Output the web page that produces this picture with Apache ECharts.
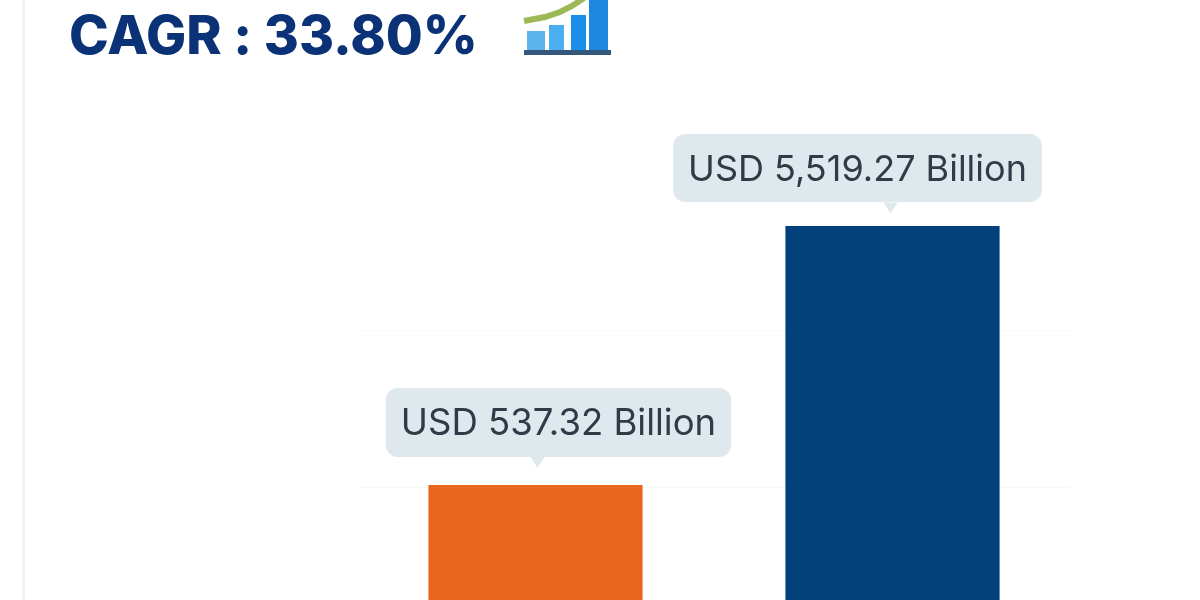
<!DOCTYPE html>
<html>
<head>
<meta charset="utf-8">
<style>html,body{margin:0;padding:0;background:#fff}#c{width:1200px;height:600px}</style>
<script src="https://cdn.jsdelivr.net/npm/echarts@6/dist/echarts.min.js"></script>
</head>
<body>
<div id="c"></div>
<script>
var categories = ['Base year', 'Forecast year'];
var values = [537.32, 5519.27];
var valueLabels = ['USD 537.32 Billion', 'USD 5,519.27 Billion'];
var barColors = ['#EB671F', '#03417C'];
var labelOffsets = [[23, 0], [-35, 0]];
var labelGaps = [28, 24];
var labelSizes = [36.5, 36];
var pointerOffsets = [[2, -22.5], [-2, -18]];
var faintLines = [528, 2168];
var axisMin = 191;
var axisMax = 10000;
var titleText = 'CAGR : 33.80%';

var chart = echarts.init(document.getElementById('c'), null, {renderer: 'canvas'});
chart.setOption({
  animation: false,
  backgroundColor: '#ffffff',
  grid: {left: 357, right: 129, top: 160, bottom: 0, containLabel: false},
  xAxis: {
    type: 'category', data: categories,
    axisLine: {show: false}, axisTick: {show: false}, axisLabel: {show: false}
  },
  yAxis: {
    type: 'log', min: axisMin, max: axisMax,
    axisLine: {show: false}, axisTick: {show: false}, axisLabel: {show: false},
    splitLine: {show: false}
  },
  title: {
    text: titleText, left: 64, top: 6,
    textStyle: {fontFamily: 'Inter', fontWeight: 800, fontSize: 53.5, color: '#0B3276'}
  },
  graphic: [
    {type: 'rect', silent: true, shape: {x: 22, y: 0, width: 3, height: 600}, style: {fill: '#F2F2F2'}},
    {type: 'rect', silent: true, shape: {x: 527, y: 31, width: 18, height: 20}, style: {fill: '#5BB2EC'}},
    {type: 'rect', silent: true, shape: {x: 549, y: 25, width: 15, height: 26}, style: {fill: '#4AAEF0'}},
    {type: 'rect', silent: true, shape: {x: 571, y: 15, width: 15, height: 36}, style: {fill: '#1B8FE8'}},
    {type: 'rect', silent: true, shape: {x: 589, y: 0, width: 19, height: 51}, style: {fill: '#1E88E0'}},
    {type: 'rect', silent: true, shape: {x: 524, y: 50, width: 87, height: 5}, style: {fill: '#35587A'}},
    {type: 'polyline', silent: true, shape: {points: [[524, 21], [545, 17], [560, 12], [572, 6], [584, -2]]}, style: {fill: 'none', stroke: '#9DB856', lineWidth: 6}}
  ],
  series: [{
    type: 'bar',
    barWidth: '60%',
    data: values.map(function (v, i) {
      return {
        value: v,
        itemStyle: {color: barColors[i]},
        label: {
          show: true, position: 'top', distance: labelGaps[i],
          offset: labelOffsets[i],
          formatter: valueLabels[i],
          fontFamily: 'Inter', fontSize: labelSizes[i], color: '#2F3B46',
          backgroundColor: '#DFE8ED', borderRadius: 12,
          padding: [18, 15, 14, 15]
        }
      };
    }),
    markLine: {
      silent: true, symbol: 'none', label: {show: false},
      lineStyle: {color: '#F9F9F9', width: 1, type: 'solid'},
      data: faintLines.map(function (v) { return {yAxis: v}; }),
      z: 1
    },
    markPoint: {
      silent: true,
      symbol: 'triangle', symbolRotate: 180, symbolSize: [14, 11],
      itemStyle: {color: '#DFE8ED'}, label: {show: false},
      data: values.map(function (v, i) { return {coord: [i, v], symbolOffset: pointerOffsets[i]}; })
    }
  }]
});
</script>
</body>
</html>
